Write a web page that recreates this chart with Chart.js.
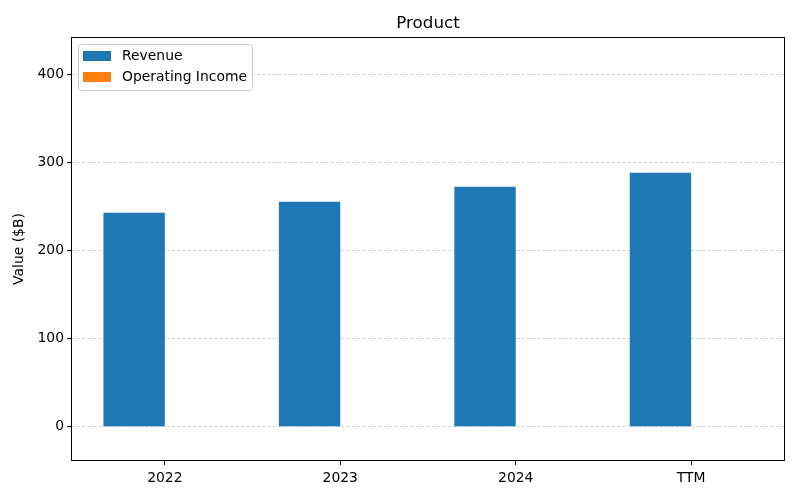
<!DOCTYPE html>
<html>
<head>
<meta charset="utf-8">
<script src="https://cdn.jsdelivr.net/npm/chart.js@4/dist/chart.umd.min.js"></script>
<style>
  html, body { margin: 0; padding: 0; background: #fff; }
  #wrap { width: 800px; height: 500px; }
</style>
</head>
<body>
<div id="wrap"><canvas id="productChart" width="800" height="500"></canvas></div>
<script>
// chart data
const periods = ['2022', '2023', '2024', 'TTM'];
const revenue = [243.2, 255.7, 272.7, 288.6];
const operatingIncome = [null, null, null, null];
const yTicks = [0, 100, 200, 300, 400];

const FONT = "'DejaVu Sans', sans-serif";

// matplotlib-ish frame, title and legend drawn on top
const framePlugin = {
    id: 'framePlugin',
    afterDraw(chart) {
        const ctx = chart.ctx;
        const a = chart.chartArea;
        ctx.save();
        ctx.strokeStyle = '#000';
        ctx.lineWidth = 1;
        ctx.strokeRect(a.left + 0.5, a.top + 0.5, a.right - a.left - 1, a.bottom - a.top - 1);

        // title
        ctx.fillStyle = '#000';
        ctx.font = '16.7px ' + FONT;
        ctx.textAlign = 'center';
        ctx.textBaseline = 'middle';
        ctx.fillText('Product', (a.left + a.right) / 2, 24);

        // legend box
        const bx = a.left + 7, by = a.top + 7, bw = 174, bh = 46;
        ctx.beginPath();
        ctx.roundRect(bx + 0.5, by + 0.5, bw, bh, 3);
        ctx.fillStyle = 'rgba(255,255,255,0.8)';
        ctx.fill();
        ctx.strokeStyle = '#cccccc';
        ctx.stroke();
        ctx.font = '13.9px ' + FONT;
        ctx.textAlign = 'left';
        chart.data.datasets.forEach((ds, i) => {
            const ry = by + 7 + i * 21;
            ctx.fillStyle = ds.backgroundColor;
            ctx.fillRect(bx + 5, ry, 28, 10);
            ctx.fillStyle = '#000';
            ctx.fillText(ds.label, bx + 44, ry + 5);
        });
        ctx.restore();
    }
};

new Chart(document.getElementById('productChart'), {
    type: 'bar',
    data: {
        datasets: [{
            label: 'Revenue',
            data: revenue.map((v, i) => ({ x: i, y: v })),
            backgroundColor: '#1f77b4',
            borderWidth: 0
        }, {
            label: 'Operating Income',
            data: operatingIncome.map((v, i) => ({ x: i, y: v })),
            backgroundColor: '#ff7f0e',
            borderWidth: 0
        }]
    },
    options: {
        responsive: false,
        animation: false,
        devicePixelRatio: 1,
        layout: { padding: { top: 37, right: 15, left: 0, bottom: 0 } },
        datasets: {
            bar: { categoryPercentage: 0.7, barPercentage: 1.0, grouped: true }
        },
        plugins: {
            legend: { display: false },
            title: { display: false },
            tooltip: { enabled: false }
        },
        scales: {
            x: {
                type: 'linear',
                offset: false,
                min: -0.535,
                max: 3.535,
                afterBuildTicks: (scale) => {
                    scale.ticks = periods.map((p, i) => ({ value: i }));
                },
                afterFit: (scale) => { scale.height = 39; },
                grid: {
                    offset: false,
                    drawOnChartArea: false,
                    drawTicks: true,
                    tickLength: 4,
                    tickColor: '#000'
                },
                border: { display: false },
                ticks: {
                    color: '#000',
                    padding: 5,
                    maxRotation: 0,
                    autoSkip: false,
                    font: { family: FONT, size: 13.9 },
                    callback: (v) => periods[v] !== undefined ? periods[v] : ''
                }
            },
            y: {
                min: -39,
                max: 443,
                afterBuildTicks: (scale) => {
                    scale.ticks = yTicks.map(v => ({ value: v }));
                },
                afterFit: (scale) => { scale.width = 71; },
                grid: {
                    color: 'rgba(200,200,200,0.75)',
                    lineWidth: 1,
                    tickBorderDash: [],
                    tickColor: '#000',
                    tickLength: 4
                },
                border: { display: false, dash: [3.7, 1.6] },
                ticks: {
                    color: '#000',
                    padding: 3,
                    font: { family: FONT, size: 13.9 }
                },
                title: {
                    display: true,
                    text: 'Value ($B)',
                    color: '#000',
                    font: { family: FONT, size: 13.9 },
                    padding: { top: 11, bottom: 0 }
                }
            }
        }
    },
    plugins: [framePlugin]
});
</script>
</body>
</html>
